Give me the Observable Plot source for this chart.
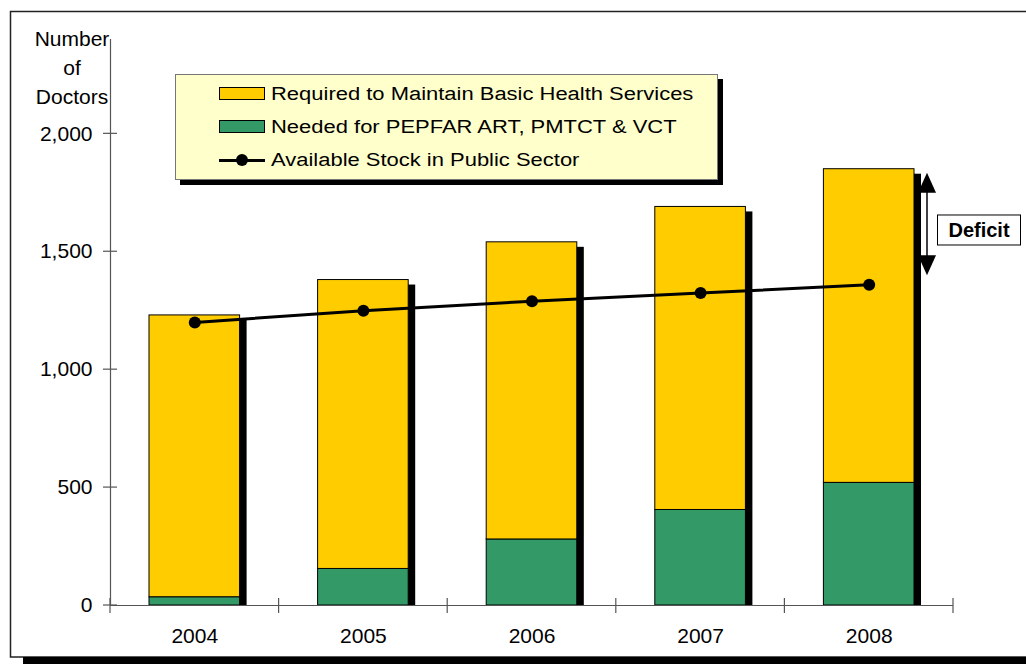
<!DOCTYPE html>
<html>
<head>
<meta charset="utf-8">
<script src="https://cdn.jsdelivr.net/npm/d3@7"></script>
<script src="https://cdn.jsdelivr.net/npm/@observablehq/plot@0.6"></script>
<style>
html, body { margin: 0; padding: 0; background: #fff; }
#wrap { position: relative; width: 1026px; height: 664px; overflow: hidden; font-family: "Liberation Sans", Arial, sans-serif; }
#wrap svg { position: absolute; left: 0; top: 0; }
#legend { position: absolute; left: 175px; top: 74px; width: 543px; height: 106px; background: #FFFFCC; border: 1px solid #777; box-shadow: 5px 5px 0 #000; box-sizing: border-box; }
.row { position: absolute; left: 0; width: 100%; height: 24px; }
.sw { position: absolute; left: 43px; top: 5px; width: 46px; height: 13px; box-sizing: border-box; border: 1.5px solid #000; }
.ln { position: absolute; left: 43px; top: 10.5px; width: 46px; height: 3px; background: #000; }
.dt { position: absolute; left: 60px; top: 6px; width: 12px; height: 12px; border-radius: 50%; background: #000; }
.lb { position: absolute; left: 95px; top: 0; font-size: 18px; line-height: 24px; color: #000; white-space: nowrap; transform: scaleX(1.22); transform-origin: left center; }
</style>
</head>
<body>
<div id="wrap"></div>
<script>
const years = [2004, 2005, 2006, 2007, 2008];
const pepfarNeed = [35, 155, 280, 405, 520];
const basicNeed = [1195, 1225, 1260, 1285, 1330];
const publicStock = [1200, 1250, 1290, 1325, 1360];
const seriesNames = [
  "Required to Maintain Basic Health Services",
  "Needed for PEPFAR ART, PMTCT & VCT",
  "Available Stock in Public Sector"
];
const seriesColors = ["#FFCC00", "#339966", "#000000"];
const yTicks = [0, 500, 1000, 1500, 2000];
const yDomain = [0, 2400];
const yAxisTitle = ["Number", "of", "Doctors"];
const deficitLabel = "Deficit";

const stacked = years.flatMap((yr, i) => [
  {year: yr, series: seriesNames[1], y1: 0, y2: pepfarNeed[i]},
  {year: yr, series: seriesNames[0], y1: pepfarNeed[i], y2: pepfarNeed[i] + basicNeed[i]}
]);
const totals = years.map((yr, i) => ({year: yr, total: pepfarNeed[i] + basicNeed[i]}));
const stock = years.map((yr, i) => ({year: yr, value: publicStock[i]}));
const bounds = [years[0] - 0.5, ...years.map(yr => yr + 0.5)];

const font = '"Liberation Sans", Arial, sans-serif';

const chart = Plot.plot({
  width: 1026,
  height: 664,
  marginLeft: 110,
  marginRight: 73,
  marginTop: 39,
  marginBottom: 59,
  style: {fontFamily: font, fontSize: "21px", color: "#000", background: "transparent"},
  x: {type: "linear", domain: [bounds[0], bounds[bounds.length - 1]], label: null},
  y: {domain: yDomain, label: null},
  color: {domain: seriesNames.slice(0, 2), range: seriesColors.slice(0, 2)},
  marks: [
    Plot.rectY(totals, {x1: d => d.year - 0.5, x2: d => d.year + 0.5, y1: 0, y2: "total", insetLeft: 46, insetRight: 32, insetTop: 5, fill: "#000"}),
    Plot.rectY(stacked, {x1: d => d.year - 0.5, x2: d => d.year + 0.5, y1: "y1", y2: "y2", fill: "series", stroke: "#000", strokeWidth: 1, insetLeft: 39, insetRight: 39}),
    Plot.ruleX([bounds[0]], {stroke: "#555", strokeWidth: 1.2}),
    Plot.ruleY([0], {stroke: "#555", strokeWidth: 1.2}),
    Plot.axisY({ticks: yTicks, tickSize: 0, tickPadding: 18, tickFormat: d3.format(","), fontSize: 21, label: null}),
    Plot.axisX({ticks: years, tickSize: 0, tickPadding: 23, tickFormat: d3.format("d"), fontSize: 21, label: null}),
    Plot.line(stock, {x: "year", y: "value", stroke: "#000", strokeWidth: 3}),
    Plot.dot(stock, {x: "year", y: "value", r: 6, fill: "#000"})
  ]
});

const wrap = document.getElementById("wrap");
wrap.appendChild(chart);

const svg = d3.select(chart);
const xs = chart.scale("x"), ys = chart.scale("y");
const X = v => xs.apply(v), Y = v => ys.apply(v);
const x0 = X(bounds[0]), y0 = Y(0);

// outer frame + shadow
svg.insert("rect", ":first-child").attr("x", 23).attr("y", 657).attr("width", 1003).attr("height", 7).attr("fill", "#000");
svg.insert("rect", ":first-child").attr("x", 10.5).attr("y", 11.5).attr("width", 1030).attr("height", 645.5)
  .attr("fill", "#fff").attr("stroke", "#222").attr("stroke-width", 1.5);

// axis ticks crossing axes
const tg = svg.append("g").attr("stroke", "#555").attr("stroke-width", 1.2);
tg.selectAll(".xt").data(bounds).join("line").attr("x1", d => X(d)).attr("x2", d => X(d)).attr("y1", y0 - 7).attr("y2", y0 + 8);
tg.selectAll(".yt").data(yTicks).join("line").attr("y1", d => Y(d)).attr("y2", d => Y(d)).attr("x1", x0 - 7).attr("x2", x0 + 7);

// y axis title
const tt = svg.append("text").attr("font-family", font).attr("font-size", 21).attr("text-anchor", "middle").attr("fill", "#000");
yAxisTitle.forEach((s, i) => tt.append("tspan").attr("x", 72).attr("y", 46 + i * 29).text(s));

// deficit arrow
const last = totals.length - 1;
const ax = X(bounds[bounds.length - 1]) - 26;
const yTop = Y(totals[last].total) + 4;
const yBot = Y(stock[last].value) - 9;
const ag = svg.append("g");
ag.append("line").attr("x1", ax).attr("x2", ax).attr("y1", yTop + 10).attr("y2", yBot - 10).attr("stroke", "#000").attr("stroke-width", 1.5);
ag.append("path").attr("d", `M${ax},${yTop}L${ax + 9},${yTop + 20}L${ax - 9},${yTop + 20}Z`).attr("fill", "#000");
ag.append("path").attr("d", `M${ax},${yBot}L${ax + 9},${yBot - 20}L${ax - 9},${yBot - 20}Z`).attr("fill", "#000");
const my = (yTop + yBot) / 2 + 6;
ag.append("rect").attr("x", ax + 10.5).attr("y", my - 15).attr("width", 83).attr("height", 30).attr("fill", "#fff").attr("stroke", "#000").attr("stroke-width", 1);
ag.append("text").attr("x", ax + 52).attr("y", my + 7).attr("text-anchor", "middle").attr("font-family", font)
  .attr("font-size", 20).attr("font-weight", "bold").attr("fill", "#000").text(deficitLabel);

// legend
const legend = document.createElement("div");
legend.id = "legend";
const rowsTop = [6.5, 40, 73];
seriesNames.forEach((name, i) => {
  const row = document.createElement("div");
  row.className = "row";
  row.style.top = rowsTop[i] + "px";
  if (i < 2) {
    const sw = document.createElement("div");
    sw.className = "sw";
    sw.style.background = seriesColors[i];
    row.appendChild(sw);
  } else {
    const ln = document.createElement("div"); ln.className = "ln"; row.appendChild(ln);
    const dt = document.createElement("div"); dt.className = "dt"; row.appendChild(dt);
  }
  const lb = document.createElement("div");
  lb.className = "lb";
  lb.textContent = name;
  row.appendChild(lb);
  legend.appendChild(row);
});
wrap.appendChild(legend);
</script>
</body>
</html>
